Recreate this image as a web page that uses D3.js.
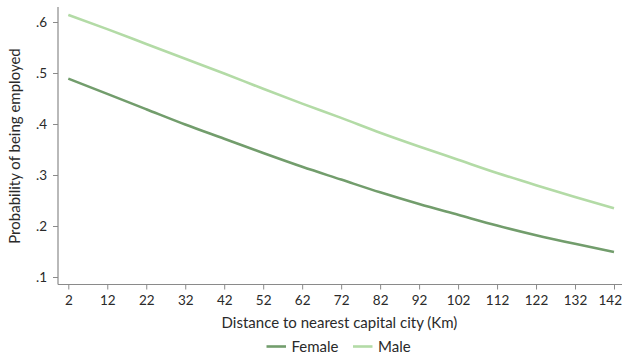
<!DOCTYPE html>
<html><head><meta charset="utf-8">
<script src="https://cdn.jsdelivr.net/npm/d3@7"></script>
<style>body{margin:0;background:#fff}svg{display:block}text{font-family:Lato,"Noto Sans",sans-serif;fill:#2a2a2a}</style>
</head><body><svg id="c" width="622" height="357"></svg>
<script>
const distance = [2,12,22,32,42,52,62,72,82,92,102,112,122,132,142];
const female = [0.489,0.459,0.429,0.399,0.371,0.343,0.316,0.291,0.266,0.243,0.222,0.201,0.182,0.165,0.149];
const male = [0.614,0.586,0.557,0.528,0.499,0.469,0.440,0.412,0.383,0.356,0.330,0.304,0.280,0.257,0.235];
const xTicks = [2,12,22,32,42,52,62,72,82,92,102,112,122,132,142];
const yTicks = [0.1,0.2,0.3,0.4,0.5,0.6];
const yTickLabels = [".1",".2",".3",".4",".5",".6"];
const seriesNames = ["Female","Male"];
const colors = ["#729d6c","#b3dba6"];

const svg = d3.select("#c");
const x = d3.scaleLinear().domain([2,142]).range([68.3,614]);
const y = d3.scaleLinear().domain([0.1,0.6]).range([277,22]);
const axisColor = "#8a8a8a";

svg.append("line").attr("x1",58).attr("x2",58).attr("y1",7).attr("y2",284.5).attr("stroke",axisColor).attr("stroke-width",1.2);
svg.append("line").attr("x1",58).attr("x2",622).attr("y1",284.5).attr("y2",284.5).attr("stroke",axisColor).attr("stroke-width",1.2);

const yAxis = svg.append("g").attr("transform","translate(58,0)")
  .call(d3.axisLeft(y).tickValues(yTicks).tickFormat((d,i)=>yTickLabels[i]).tickSize(5).tickPadding(6));
yAxis.select(".domain").remove();
yAxis.selectAll("line").attr("stroke",axisColor);
yAxis.selectAll("text").attr("font-size",13.5).attr("fill","#2a2a2a").style("font-family","Lato");

const xAxis = svg.append("g").attr("transform","translate(0,284.5)")
  .call(d3.axisBottom(x).tickValues(xTicks).tickSize(5).tickPadding(6));
xAxis.select(".domain").remove();
xAxis.selectAll("line").attr("stroke",axisColor);
xAxis.selectAll("text").attr("font-size",13.5).attr("fill","#2a2a2a").style("font-family","Lato");
xAxis.selectAll(".tick").filter(d=>d===142).select("text").attr("text-anchor","end").attr("x",7.5);

const line = d3.line().x(d=>x(d[0])).y(d=>y(d[1])).curve(d3.curveMonotoneX);
[female,male].forEach((s,i)=>{
  svg.append("path").datum(distance.map((d,j)=>[d,s[j]]))
    .attr("d",line).attr("fill","none").attr("stroke",colors[i]).attr("stroke-width",2.6);
});

svg.append("text").attr("x",339.5).attr("y",328).attr("text-anchor","middle").attr("font-size",15)
  .text("Distance to nearest capital city (Km)");
svg.append("text").attr("transform","translate(20,146) rotate(-90)").attr("text-anchor","middle").attr("font-size",15)
  .text("Probability of being employed");

const legX = [266.5,353];
seriesNames.forEach((n,i)=>{
  svg.append("line").attr("x1",legX[i]).attr("x2",legX[i]+19.5).attr("y1",346.5).attr("y2",346.5)
    .attr("stroke",colors[i]).attr("stroke-width",2.6);
  svg.append("text").attr("x",legX[i]+25).attr("y",351.5).attr("font-size",15).text(n);
});
</script></body></html>
